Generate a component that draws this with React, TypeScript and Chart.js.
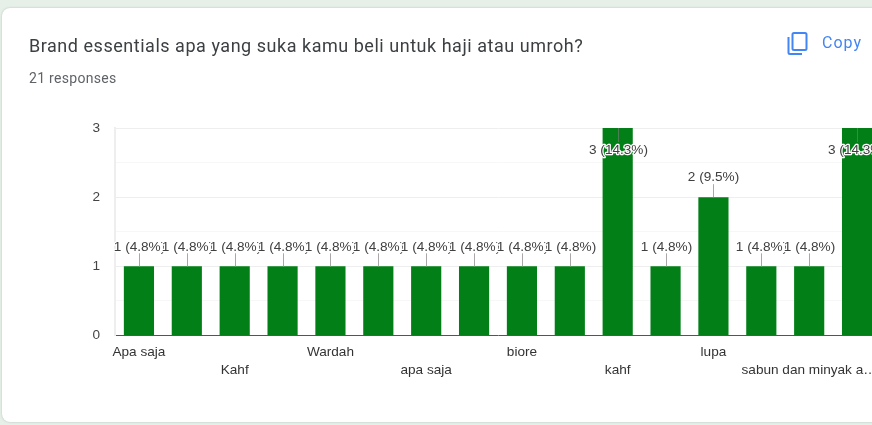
import React, { useEffect, useRef } from "react";
import { Chart, registerables } from "chart.js";

Chart.register(...registerables);

const categories = ["Apa saja", "", "Kahf", "", "Wardah", "", "apa saja", "", "biore", "", "kahf", "", "lupa", "", "sabun dan minyak a…", ""];
const tickRows = [0, 0, 1, 0, 0, 0, 1, 0, 0, 0, 1, 0, 0, 0, 1, 0];
const values = [1, 1, 1, 1, 1, 1, 1, 1, 1, 1, 3, 1, 2, 1, 1, 3];
const valueLabels = ["1 (4.8%)", "1 (4.8%)", "1 (4.8%)", "1 (4.8%)", "1 (4.8%)", "1 (4.8%)", "1 (4.8%)", "1 (4.8%)", "1 (4.8%)", "1 (4.8%)", "3 (14.3%)", "1 (4.8%)", "2 (9.5%)", "1 (4.8%)", "1 (4.8%)", "3 (14.3%)"];
const yMax = 3;

const FONT = "'Liberation Sans', Arial, sans-serif";
const FONT_SIZE = 13.6;

const valueLabelPlugin = {
  id: "valueLabels",
  afterDatasetsDraw(chart: any) {
    const { ctx, scales } = chart;
    ctx.save();
    ctx.font = `${FONT_SIZE}px ${FONT}`;
    ctx.textAlign = "center";
    ctx.textBaseline = "middle";
    values.forEach((v, i) => {
      const x = Math.round(scales.x.getPixelForValue(i)) + 0.5;
      const top = scales.y.getPixelForValue(v);
      const inside = v >= yMax;
      const end = inside ? top + 14 : top - 13;
      const textY = inside ? top + 22 : top - 19.5;
      ctx.beginPath();
      ctx.moveTo(x, top);
      ctx.lineTo(x, end);
      ctx.lineWidth = 1;
      ctx.strokeStyle = inside ? "#4d7f55" : "#a8a8a8";
      ctx.stroke();
      ctx.lineJoin = "round";
      ctx.lineWidth = 2.5;
      ctx.strokeStyle = "#ffffff";
      ctx.strokeText(valueLabels[i], x, textY);
      ctx.fillStyle = "#404040";
      ctx.fillText(valueLabels[i], x, textY);
    });
    ctx.restore();
  },
};

export default function App() {
  const ref = useRef<HTMLCanvasElement>(null);
  useEffect(() => {
    document.body.style.margin = "0";
    document.body.style.overflow = "hidden";
    const chart = new Chart(ref.current as HTMLCanvasElement, {
      type: "bar",
      data: {
        labels: categories.map((c, i) => (tickRows[i] ? ["", c] : [c, ""])),
        datasets: [
          {
            data: values,
            backgroundColor: "#027f16",
            borderWidth: 0,
            barPercentage: 0.63,
            categoryPercentage: 1,
          },
        ],
      },
      options: {
        animation: false,
        responsive: false,
        layout: { padding: { top: 128, left: 0, right: 0, bottom: 0 } },
        plugins: { legend: { display: false }, tooltip: { enabled: false } },
        scales: {
          x: {
            afterFit: (s: any) => {
              s.height = 89.5;
            },
            grid: { display: false },
            border: { display: false },
            ticks: {
              autoSkip: false,
              maxRotation: 0,
              minRotation: 0,
              padding: 0,
              color: "#333333",
              font: { family: FONT, size: FONT_SIZE, lineHeight: 18 / FONT_SIZE },
            },
          },
          y: {
            min: 0,
            max: yMax,
            afterFit: (s: any) => {
              s.width = 115;
            },
            border: { display: true, color: "#eeeeee", width: 2 },
            grid: {
              drawTicks: false,
              lineWidth: 1,
              color: (c: any) =>
                c.tick.value === 0 ? "#555555" : Number.isInteger(c.tick.value) ? "#eeeeee" : "#f7f7f7",
            },
            ticks: {
              stepSize: 0.5,
              padding: 15,
              color: "#444444",
              font: { family: FONT, size: FONT_SIZE },
              callback: (v: any) => (Number.isInteger(v) ? String(v) : ""),
            },
          },
        },
      },
      plugins: [valueLabelPlugin],
    } as any);
    return () => chart.destroy();
  }, []);

  return (
    <div style={{ position: "relative", width: 872, height: 425, overflow: "hidden", background: "#e6f0e8" }}>
      <div
        style={{
          position: "absolute",
          left: 2,
          top: 8,
          width: 900,
          height: 414,
          background: "#ffffff",
          borderRadius: 8,
          boxShadow: "0 0 2px rgba(120,140,125,0.5)",
        }}
      />
      <canvas ref={ref} width={881} height={425} style={{ position: "absolute", left: 0, top: 0, display: "block" }} />
      <div
        style={{
          position: "absolute",
          left: 29,
          top: 35,
          font: "18px Roboto, sans-serif",
          letterSpacing: "0.53px",
          lineHeight: "21px",
          color: "#3c4043",
          whiteSpace: "nowrap",
        }}
      >
        Brand essentials apa yang suka kamu beli untuk haji atau umroh?
      </div>
      <div
        style={{
          position: "absolute",
          left: 29,
          top: 70,
          font: "14px Roboto, sans-serif",
          letterSpacing: "0.3px",
          lineHeight: "16px",
          color: "#5f6368",
          whiteSpace: "nowrap",
        }}
      >
        21 responses
      </div>
      <svg style={{ position: "absolute", left: 786, top: 31 }} width="24" height="25" viewBox="0 0 24 25" fill="none" stroke="#4285f4" strokeWidth="2">
        <rect x="6.5" y="2" width="14" height="17" rx="1.5" />
        <path d="M2.5 6v15.5a1.5 1.5 0 0 0 1.5 1.5h12" />
      </svg>
      <div
        style={{
          position: "absolute",
          left: 822,
          top: 33,
          font: "16px Roboto, sans-serif",
          letterSpacing: "1px",
          lineHeight: "20px",
          color: "#4285f4",
          whiteSpace: "nowrap",
        }}
      >
        Copy
      </div>
    </div>
  );
}
